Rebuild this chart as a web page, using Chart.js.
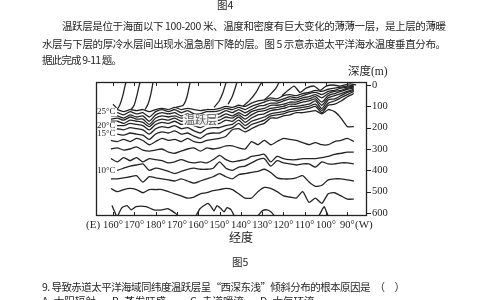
<!DOCTYPE html>
<html lang="zh">
<head>
<meta charset="utf-8">
<title>图5 赤道太平洋海水温度垂直分布</title>
<script src="https://cdn.jsdelivr.net/npm/chart.js@4"></script>
<style>
  html, body { margin: 0; padding: 0; background: #fff; }
  body { position: relative; width: 484px; height: 300px; overflow: hidden; color: #262626; }
  #box { position: absolute; left: 0; top: 0; width: 484px; height: 300px; }
  .t { position: absolute; white-space: nowrap; line-height: 1; font-size: 10.5px;
       font-family: "Noto Sans CJK SC", sans-serif; z-index: 2; }
  .s { font-family: "Liberation Serif", serif; font-size: 11px; }
</style>
</head>
<body>
<div id="box"><canvas id="chart"></canvas></div>

<div class="t" style="left:217px;top:0px">图4</div>
<div class="t" data-w="384" style="left:62px;top:21px">温跃层是位于海面以下 100-200 米、温度和密度有巨大变化的薄薄一层，是上层的薄暖</div>
<div class="t" data-w="404" style="left:42px;top:39px">水层与下层的厚冷水层间出现水温急剧下降的层。图 5 示意赤道太平洋海水温度垂直分布。</div>
<div class="t" data-w="80" style="left:42px;top:55px">据此完成 9-11 题。</div>
<div class="t" style="left:348px;top:65px;font-size:11.5px">深度<span class="s" style="font-size:11.5px">(m)</span></div>
<div class="t s" style="left:86px;top:219px">(E)</div>
<div class="t s" style="left:355px;top:219px">(W)</div>
<div class="t" style="left:229px;top:231px;font-size:12px">经度</div>
<div class="t" style="left:232px;top:257px">图5</div>
<div class="t" data-w="363" style="left:42px;top:282px">9. 导致赤道太平洋海域同纬度温跃层呈“西深东浅”倾斜分布的根本原因是　（　）</div>
<div class="t" style="left:42px;top:296px">A. 太阳辐射</div>
<div class="t" style="left:112px;top:296px">B. 蒸发旺盛</div>
<div class="t" style="left:190px;top:296px">C. 赤道暖流</div>
<div class="t" style="left:260px;top:296px">D. 大气环流</div>

<script>
// longitude as a continuous eastward value: 180 = 180°, 190 = 170°W ... 270 = 90°W
const gridLon = [159,162,165,168,171,174,177,180,183,186,189,192,195,198,201,204,207,210,213,216,219,222,225,228,231,234,237,240,243,246,249,252,255,258,261,264,267,270,273];

// isotherm depths (m) along gridLon
const t25 = [120,115,125,115,120,115,125,115,110,115,105,115,110,115,120,115,115,110,100,105,95,100,85,75,70,60,65,50,45,50,40,35,25,30,20,15,10,5,0];
const t24 = [135,130,140,125,135,130,150,125,115,125,115,130,120,135,135,125,125,120,110,115,105,115,100,90,80,70,75,65,55,60,50,40,35,45,30,25,15,10,5];
const t23 = [145,145,155,140,150,145,170,140,130,135,130,145,135,150,155,140,140,135,120,130,115,130,115,100,95,85,85,75,65,70,60,55,45,60,40,30,25,15,10];
const t22 = [160,155,165,150,160,160,185,155,145,150,145,155,150,165,170,155,155,150,135,145,130,145,125,115,110,95,95,90,80,80,70,65,55,80,50,40,30,20,15];
const t21 = [170,170,180,165,170,175,195,170,160,165,155,170,165,180,185,170,170,165,150,155,140,160,140,125,120,110,105,100,90,90,80,75,65,95,60,50,40,30,20];
const t20 = [185,190,190,180,185,190,210,185,175,180,170,185,180,190,200,185,185,180,165,170,150,175,155,140,135,120,115,110,100,100,95,90,75,110,70,65,50,35,25];
const t17 = [205,205,210,200,205,210,230,205,195,200,190,205,200,215,225,205,200,200,190,185,165,190,170,160,150,135,130,125,115,110,105,100,90,120,85,75,60,45,30];
const t15 = [230,230,235,225,230,235,255,230,220,225,215,230,225,240,250,230,225,225,210,200,180,205,185,175,165,145,140,135,125,120,115,110,100,130,95,90,75,55,40];
const t14 = [260,265,255,265,250,260,280,265,250,260,255,265,250,265,270,260,255,250,240,210,205,220,205,190,180,155,155,145,140,130,130,125,120,135,115,125,155,195,195];
const t12 = [300,295,305,300,290,305,310,305,300,315,320,310,300,295,310,295,300,295,285,285,295,300,265,280,260,280,265,250,255,260,270,280,270,280,280,265,260,250,265];
const t11 = [345,360,340,355,340,360,345,350,355,365,360,350,360,365,360,365,350,330,350,360,355,350,335,330,325,360,335,345,350,350,345,345,345,340,335,325,320,315,315];
const t10 = [405,400,390,380,375,370,400,390,395,405,415,405,395,390,395,395,390,360,390,400,385,380,365,350,345,380,355,365,370,375,370,370,385,360,370,370,365,365,370];
const t9  = [440,440,435,430,425,455,430,435,440,445,450,440,450,460,450,440,430,415,430,440,420,415,410,405,395,410,435,440,440,435,425,455,475,470,445,440,440,445,450];
const t8  = [485,500,490,485,490,505,490,490,490,500,510,520,530,525,510,505,495,490,485,490,510,530,530,500,480,485,500,520,525,530,500,550,530,555,510,505,520,535,535];

// warm tongues rising to the surface, [longitude, depth]
const warm1 = [[160,90],[162,110],[163.3,90],[164.7,45],[165.6,5],[166.1,-14]];
const warm2 = [[168.5,115],[169.9,95],[171.3,45],[172.2,5],[172.7,-14]];
const warm3 = [[175,115],[176.4,90],[177.8,40],[178.8,-14]];
const warm4 = [[189.6,105],[192.9,95],[194.7,55],[196.2,-14]];
const warm5 = [[207.4,105],[209.8,75],[211.6,35],[213.1,-14]];
const warm6 = [[214,90],[215.9,55],[217.3,15],[218.2,-14]];
const warm7 = [[221,100],[224.3,70],[227.1,35],[229,0],[230,-14]];
const warm8 = [[231,70],[233.7,45],[236.5,15],[238,-14]];
const warm9 = [[239.3,50],[242.2,25],[245,5],[247.8,35],[250.6,15],[254.4,5],[257.2,25],[260,5],[263.3,0],[266.6,5],[271.3,-5],[274.1,0]];

// deepest broken isotherm pieces near 600 m
const cold1 = [[159.5,565],[161.5,612]];
const cold2 = [[162.3,612],[164.2,575],[166.6,565],[168.5,585],[170.8,570],[175.5,570],[179.2,585],[183,585],[185.8,580],[189.1,600],[190.5,612]];
const cold3 = [[199,612],[200.8,580],[202.7,565],[204.6,555],[206,570],[207.4,590],[208.8,565],[210.7,580],[212.1,595],[213.5,575],[215.4,585],[216.8,612]];
const cold4 = [[228.1,612],[230,590],[232.3,585],[234.2,595],[235.6,612]];
const cold5 = [[256.7,612],[258.1,585],[259.1,570],[260,590],[260.9,612]];

const lonTicks = [160,170,180,190,200,210,220,230,240,250,260,270];
const lonLabels = ['160°','170°','180°','170°','160°','150°','140°','130°','120°','110°','100°','90°'];
const depthTicks = [0,100,200,300,400,500,600];
const isoLabels = ['25°C','20°C','15°C','10°C'];
const isoLabelDepth = [127,190,230,400];

const LINE = '#242424';

const gridLines = [t25,t24,t23,t22,t21,t20,t17,t15,t14,t12,t11,t10,t9,t8];
const pieces = [warm1,warm2,warm3,warm4,warm5,warm6,warm7,warm8,warm9,cold1,cold2,cold3,cold4,cold5];

const datasets = gridLines
    .map(d => gridLon.map((lon, i) => ({x: lon, y: d[i]})))
    .concat(pieces.map(p => p.map(([x, y]) => ({x, y}))))
    .map(data => ({data, borderColor: LINE, borderWidth: 1.3, pointRadius: 0, tension: 0.2, fill: false}));

// frame, inward ticks and labels sitting on white patches
const framePlugin = {
    id: 'frame',
    afterDatasetsDraw(chart) {
        const {ctx, chartArea: a, scales: {x, y}} = chart;
        ctx.save();

        ctx.font = '9px "Liberation Serif"';
        ctx.textBaseline = 'middle';
        isoLabels.forEach((txt, i) => {
            const py = y.getPixelForValue(isoLabelDepth[i]);
            const w = ctx.measureText(txt).width;
            ctx.fillStyle = '#fff';
            ctx.fillRect(a.left + 1, py - 4, w + 1.5, 8);
            ctx.fillStyle = '#1e1e1e';
            ctx.fillText(txt, a.left + 1, py);
        });

        ctx.font = '11px "Noto Sans CJK SC"';
        const lx = x.getPixelForValue(201), ly = y.getPixelForValue(165);
        const lw = ctx.measureText('温跃层').width;
        ctx.fillStyle = 'rgba(255,255,255,0.85)';
        ctx.fillRect(lx - lw / 2 - 1, ly - 6, lw + 2, 12);
        ctx.fillStyle = '#5a5a5a';
        ctx.textAlign = 'center';
        ctx.fillText('温跃层', lx, ly);

        ctx.strokeStyle = '#222';
        ctx.lineWidth = 1.3;
        ctx.strokeRect(a.left + 0.5, a.top + 0.5, a.width - 1, a.height - 1);

        ctx.lineWidth = 1;
        ctx.beginPath();
        lonTicks.forEach(v => {
            const px = Math.round(x.getPixelForValue(v)) + 0.5;
            ctx.moveTo(px, a.top); ctx.lineTo(px, a.top + 4);
            ctx.moveTo(px, a.bottom); ctx.lineTo(px, a.bottom - 4);
        });
        depthTicks.forEach(v => {
            const py = Math.round(y.getPixelForValue(v)) + 0.5;
            ctx.moveTo(a.right, py); ctx.lineTo(a.right + 4, py);
        });
        ctx.stroke();
        ctx.restore();
    }
};

new Chart(document.getElementById('chart'), {
    type: 'line',
    data: {datasets},
    options: {
        responsive: true,
        maintainAspectRatio: false,
        animation: false,
        layout: {padding: {left: 96, top: 82, right: 87, bottom: 64}},
        plugins: {legend: {display: false}, tooltip: {enabled: false}, colors: {enabled: false}},
        scales: {
            x: {
                type: 'linear', min: 152, max: 279.2,
                grid: {display: false, drawTicks: false},
                border: {display: false},
                afterBuildTicks: s => { s.ticks = lonTicks.map(v => ({value: v})); },
                afterFit: s => { s.height = 20; },
                ticks: {
                    autoSkip: false, maxRotation: 0, padding: 3, color: '#1e1e1e',
                    font: {family: 'Liberation Serif', size: 10.5},
                    callback: (v, i) => lonLabels[i]
                }
            },
            y: {
                type: 'linear', position: 'right', reverse: true, min: -14, max: 614,
                grid: {display: false, drawTicks: false},
                border: {display: false},
                afterBuildTicks: s => { s.ticks = depthTicks.map(v => ({value: v})); },
                afterFit: s => { s.width = 30; },
                ticks: {padding: 5, color: '#1e1e1e', font: {family: 'Liberation Serif', size: 10.5}}
            }
        }
    },
    plugins: [framePlugin]
});

// stretch text lines to the widths of the scanned page
function fitLines() {
    document.querySelectorAll('[data-w]').forEach(el => {
        el.style.letterSpacing = '0px';
        const n = el.textContent.length;
        const w = el.getBoundingClientRect().width;
        el.style.letterSpacing = ((+el.dataset.w - w) / (n - 1)) + 'px';
    });
}
fitLines();
document.fonts.ready.then(fitLines);
</script>
</body>
</html>
